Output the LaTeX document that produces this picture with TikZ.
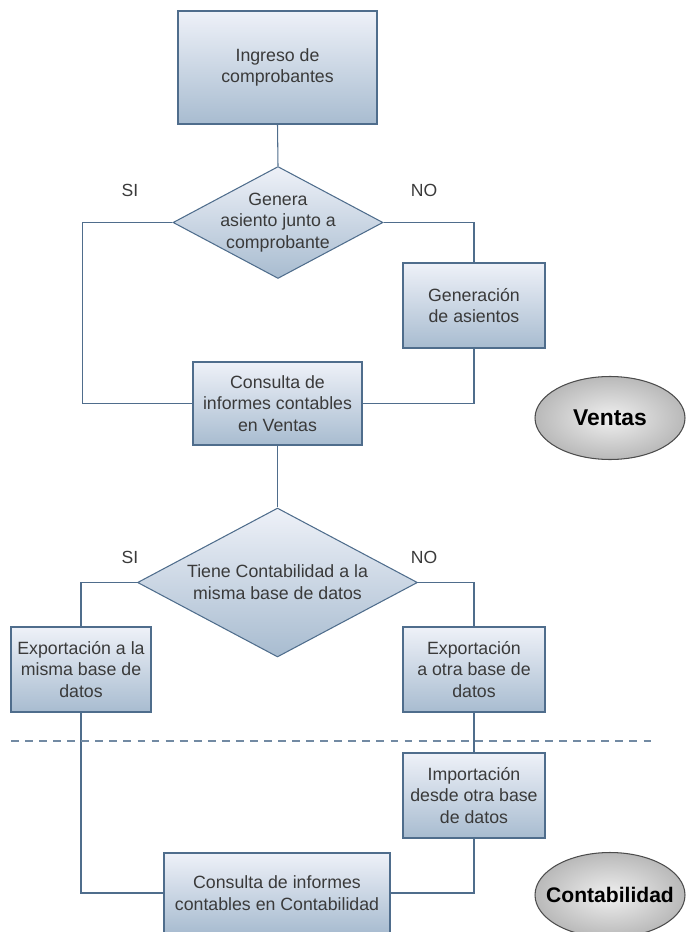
\documentclass[tikz,border=0pt]{standalone}
\usepackage{fontspec}
\setmainfont{Liberation Sans}
\usepackage{tikz}
\usetikzlibrary{shapes.geometric}

\definecolor{boxtop}{HTML}{EEF1F8}
\definecolor{boxbot}{HTML}{A8BCD0}
\definecolor{boxline}{HTML}{4F6D8C}
\definecolor{txt}{HTML}{3A3A3A}

\begin{document}
\begin{tikzpicture}[x=0.02cm,y=-0.02cm,
		every node/.style={text=txt,font=\fontsize{10.1}{12.4}\selectfont},
		procbox/.style={draw=boxline,line width=0.6pt,top color=boxtop,bottom color=boxbot,align=center,inner sep=0pt},
		decide/.style={diamond,draw=boxline,line width=0.6pt,top color=boxtop,bottom color=boxbot,align=center,inner sep=-10pt},
		area/.style={ellipse,draw=black!70,line width=0.6pt,inner color=gray!12,outer color=gray!55,text=black,inner sep=-12pt},
		answer/.style={font=\fontsize{10}{12}\selectfont},
		link/.style={draw=boxline,line width=0.6pt}]
		\useasboundingbox (0,0) rectangle (686,932);

		\node[procbox,minimum width=3.98cm,minimum height=2.26cm] (ingreso) at (277.5,67.5) {Ingreso de\\comprobantes};
		\node[decide,aspect=1.875,minimum width=4.2cm,minimum height=2.24cm] (dia1) at (278,222.5) {Genera\\asiento junto a\\comprobante};
		\node[procbox,minimum width=2.84cm,minimum height=1.7cm] (gen) at (474,305.5) {Generación\\de asientos};
		\node[procbox,minimum width=3.38cm,minimum height=1.66cm] (consv) at (277.5,403.5) {Consulta de\\informes contables\\en Ventas};
		\node[area,font=\fontsize{13}{15}\selectfont\bfseries,minimum width=3cm,minimum height=1.66cm] (ventas) at (610,418) {Ventas};

		\node[decide,aspect=1.88,minimum width=5.6cm,minimum height=2.98cm] (dia2) at (277.5,582.5) {Tiene Contabilidad a la\\misma base de datos};
		\node[procbox,minimum width=2.8cm,minimum height=1.7cm] (expa) at (81,669.5) {Exportación a la\\misma base de\\datos};
		\node[procbox,minimum width=2.84cm,minimum height=1.7cm] (expb) at (474,669.5) {Exportación\\a otra base de\\datos};
		\node[procbox,minimum width=2.84cm,minimum height=1.7cm] (imp) at (474,795.5) {Importación\\desde otra base\\de datos};
		\node[procbox,minimum width=4.52cm,minimum height=1.6cm] (consc) at (277,893) {Consulta de informes\\contables en Contabilidad};
		\node[area,font=\fontsize{12}{14}\selectfont\bfseries,minimum width=3cm,minimum height=1.7cm] (contab) at (610,895) {Contabilidad};

		\node[answer] (si1) at (130,190) {SI};
		\node[answer] (no1) at (424,190) {NO};
		\node[answer] (si2) at (130,557) {SI};
		\node[answer] (no2) at (424,557) {NO};

		\coordinate (sepL) at (11,741);
		\coordinate (sepR) at (652,741);

		\draw[link] (ingreso.south) -- (dia1.north);
		\draw[link] (dia1.west) -- ++(-90,0) |- (consv.west);
		\draw[link] (dia1.east) -| (gen.north);
		\draw[link] (gen.south) |- (consv.east);
		\draw[link] (consv.south) -- (dia2.north);
		\draw[link] (dia2.west) -| (expa.north);
		\draw[link] (dia2.east) -| (expb.north);
		\draw[link] (expb.south) -- (imp.north);
		\draw[link] (expa.south) |- (consc.west);
		\draw[link] (imp.south) |- (consc.east);
		\draw[draw=boxline!80,line width=0.6pt,dash pattern=on 4.5pt off 3.5pt] (sepL) -- (sepR);
	\end{tikzpicture}
\end{document}
